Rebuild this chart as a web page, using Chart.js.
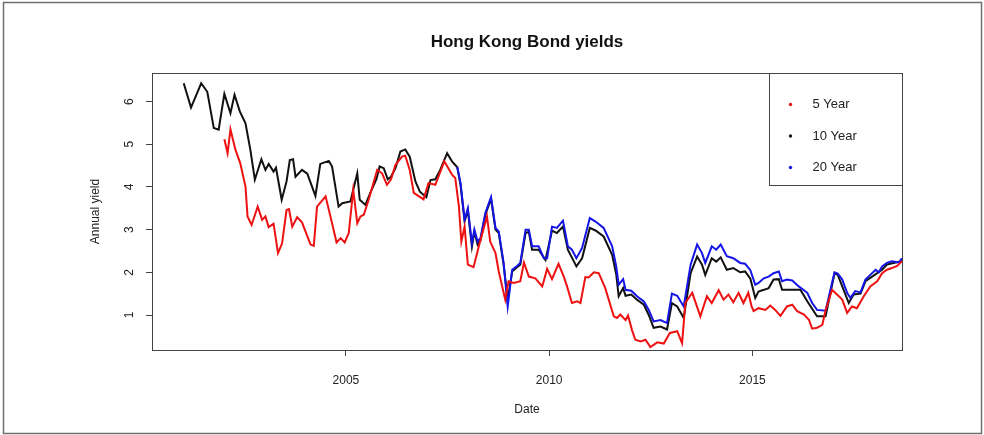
<!DOCTYPE html>
<html>
<head>
<meta charset="utf-8">
<title>Hong Kong Bond yields</title>
<script src="https://cdn.jsdelivr.net/npm/chart.js@4.4.0/dist/chart.umd.min.js"></script>
<style>
    html, body { margin: 0; padding: 0; background: #fff; }
    #wrap { width: 984px; height: 435px; }
</style>
</head>
<body>
<div id="wrap"><canvas id="chart" width="984" height="435"></canvas></div>
<script>
// Series (decimal years / annual yield in %)
const fiveYearDates = [2002.01, 2002.09, 2002.16, 2002.28, 2002.40, 2002.53, 2002.58, 2002.68, 2002.83, 2002.94, 2003.02, 2003.10, 2003.22, 2003.33, 2003.43, 2003.54, 2003.60, 2003.68, 2003.80, 2003.92, 2004.13, 2004.21, 2004.29, 2004.50, 2004.66, 2004.77, 2004.87, 2004.97, 2005.07, 2005.18, 2005.28, 2005.36, 2005.44, 2005.56, 2005.77, 2005.89, 2006.01, 2006.11, 2006.22, 2006.38, 2006.46, 2006.57, 2006.67, 2006.91, 2007.03, 2007.20, 2007.42, 2007.61, 2007.69, 2007.78, 2007.84, 2007.92, 2008.00, 2008.14, 2008.27, 2008.47, 2008.55, 2008.68, 2008.76, 2008.92, 2009.00, 2009.13, 2009.29, 2009.38, 2009.50, 2009.66, 2009.83, 2009.95, 2010.07, 2010.23, 2010.36, 2010.44, 2010.56, 2010.69, 2010.77, 2010.89, 2010.97, 2011.10, 2011.22, 2011.38, 2011.59, 2011.67, 2011.75, 2011.88, 2011.94, 2012.04, 2012.12, 2012.25, 2012.37, 2012.49, 2012.66, 2012.82, 2012.97, 2013.15, 2013.27, 2013.35, 2013.52, 2013.72, 2013.88, 2014.00, 2014.17, 2014.29, 2014.41, 2014.53, 2014.66, 2014.78, 2014.90, 2014.98, 2015.03, 2015.15, 2015.32, 2015.44, 2015.56, 2015.69, 2015.85, 2015.98, 2016.10, 2016.27, 2016.39, 2016.47, 2016.59, 2016.72, 2016.80, 2016.96, 2017.08, 2017.21, 2017.33, 2017.45, 2017.57, 2017.74, 2017.90, 2018.07, 2018.19, 2018.31, 2018.43, 2018.56, 2018.68];
const fiveYearValues = [5.12, 4.79, 5.35, 4.88, 4.56, 4.01, 3.31, 3.11, 3.54, 3.23, 3.31, 3.06, 3.14, 2.45, 2.68, 3.46, 3.48, 3.07, 3.29, 3.17, 2.65, 2.62, 3.54, 3.78, 3.15, 2.70, 2.80, 2.70, 2.92, 3.93, 3.15, 3.31, 3.35, 3.70, 4.40, 4.32, 4.05, 4.18, 4.52, 4.71, 4.73, 4.40, 3.86, 3.71, 4.09, 4.05, 4.60, 4.29, 4.21, 3.54, 2.72, 3.07, 2.18, 2.12, 2.61, 3.31, 2.72, 2.45, 2.02, 1.36, 1.79, 1.75, 1.79, 2.23, 1.90, 1.86, 1.67, 2.08, 1.84, 2.20, 1.90, 1.67, 1.28, 1.32, 1.28, 1.89, 1.88, 2.00, 1.98, 1.63, 0.97, 0.93, 1.01, 0.88, 0.99, 0.64, 0.42, 0.38, 0.42, 0.25, 0.36, 0.33, 0.58, 0.62, 0.34, 1.28, 1.52, 0.97, 1.44, 1.28, 1.58, 1.36, 1.48, 1.30, 1.52, 1.28, 1.52, 1.20, 1.09, 1.16, 1.12, 1.22, 1.12, 0.98, 1.20, 1.24, 1.09, 1.01, 0.89, 0.68, 0.70, 0.77, 1.11, 1.59, 1.48, 1.36, 1.05, 1.20, 1.16, 1.44, 1.67, 1.79, 1.98, 2.06, 2.10, 2.15, 2.26];

const tenYearDates = [2001.01, 2001.19, 2001.44, 2001.59, 2001.75, 2001.87, 2002.01, 2002.16, 2002.26, 2002.39, 2002.53, 2002.65, 2002.76, 2002.92, 2003.02, 2003.10, 2003.22, 2003.28, 2003.42, 2003.54, 2003.62, 2003.70, 2003.76, 2003.92, 2004.05, 2004.25, 2004.37, 2004.58, 2004.66, 2004.82, 2004.91, 2005.11, 2005.28, 2005.34, 2005.48, 2005.60, 2005.75, 2005.83, 2005.93, 2006.03, 2006.11, 2006.22, 2006.34, 2006.46, 2006.57, 2006.71, 2006.82, 2006.98, 2007.08, 2007.20, 2007.32, 2007.49, 2007.61, 2007.74, 2007.82, 2007.92, 2008.00, 2008.10, 2008.16, 2008.24, 2008.31, 2008.43, 2008.57, 2008.68, 2008.76, 2008.88, 2008.98, 2009.09, 2009.21, 2009.29, 2009.42, 2009.50, 2009.58, 2009.74, 2009.91, 2010.07, 2010.19, 2010.34, 2010.46, 2010.67, 2010.81, 2011.00, 2011.14, 2011.34, 2011.55, 2011.65, 2011.71, 2011.82, 2011.88, 2012.02, 2012.16, 2012.33, 2012.45, 2012.57, 2012.74, 2012.90, 2013.02, 2013.15, 2013.31, 2013.48, 2013.64, 2013.76, 2013.84, 2014.00, 2014.11, 2014.22, 2014.37, 2014.53, 2014.70, 2014.82, 2014.95, 2015.07, 2015.15, 2015.28, 2015.40, 2015.52, 2015.65, 2015.73, 2015.98, 2016.18, 2016.35, 2016.59, 2016.80, 2016.92, 2017.02, 2017.10, 2017.21, 2017.37, 2017.49, 2017.66, 2017.78, 2017.90, 2018.07, 2018.19, 2018.31, 2018.47, 2018.68];
const tenYearValues = [6.43, 5.86, 6.43, 6.23, 5.38, 5.34, 6.18, 5.73, 6.16, 5.77, 5.49, 4.87, 4.17, 4.65, 4.40, 4.54, 4.36, 4.45, 3.70, 4.13, 4.63, 4.65, 4.24, 4.40, 4.31, 3.79, 4.54, 4.61, 4.48, 3.54, 3.62, 3.66, 4.32, 3.70, 3.58, 3.86, 4.18, 4.48, 4.44, 4.18, 4.24, 4.44, 4.83, 4.88, 4.71, 4.13, 3.89, 3.76, 4.16, 4.18, 4.40, 4.79, 4.60, 4.46, 4.05, 3.20, 3.45, 2.60, 2.95, 2.65, 2.75, 3.35, 3.72, 3.00, 2.92, 2.18, 1.35, 2.02, 2.12, 2.18, 2.92, 2.95, 2.53, 2.53, 2.29, 2.98, 2.92, 3.07, 2.53, 2.14, 2.33, 3.04, 2.98, 2.84, 2.41, 1.95, 1.44, 1.63, 1.45, 1.48, 1.36, 1.24, 1.00, 0.70, 0.73, 0.66, 1.28, 1.20, 0.93, 1.98, 2.37, 2.18, 1.94, 2.33, 2.25, 2.35, 2.06, 2.10, 2.00, 2.02, 1.85, 1.40, 1.55, 1.59, 1.63, 1.83, 1.84, 1.59, 1.59, 1.59, 1.32, 0.97, 0.97, 1.52, 1.98, 1.94, 1.67, 1.28, 1.48, 1.50, 1.79, 1.87, 1.98, 2.06, 2.18, 2.22, 2.26];

const twentyYearDates = [2007.74, 2007.82, 2007.92, 2008.00, 2008.10, 2008.16, 2008.24, 2008.31, 2008.43, 2008.57, 2008.68, 2008.76, 2008.88, 2008.98, 2009.09, 2009.21, 2009.29, 2009.42, 2009.50, 2009.58, 2009.74, 2009.87, 2009.95, 2010.07, 2010.19, 2010.34, 2010.46, 2010.56, 2010.67, 2010.81, 2011.00, 2011.14, 2011.34, 2011.55, 2011.65, 2011.71, 2011.82, 2011.88, 2012.02, 2012.16, 2012.33, 2012.45, 2012.57, 2012.74, 2012.90, 2013.02, 2013.15, 2013.31, 2013.48, 2013.64, 2013.76, 2013.84, 2014.00, 2014.11, 2014.22, 2014.37, 2014.53, 2014.70, 2014.82, 2014.95, 2015.07, 2015.15, 2015.28, 2015.40, 2015.52, 2015.65, 2015.73, 2015.85, 2015.98, 2016.14, 2016.35, 2016.47, 2016.59, 2016.80, 2016.92, 2017.02, 2017.10, 2017.21, 2017.33, 2017.41, 2017.53, 2017.66, 2017.78, 2017.90, 2018.03, 2018.11, 2018.19, 2018.31, 2018.43, 2018.60, 2018.68];
const twentyYearValues = [4.46, 4.09, 3.23, 3.50, 2.68, 3.00, 2.72, 2.80, 3.39, 3.76, 3.04, 2.96, 2.22, 1.20, 2.06, 2.15, 2.22, 3.00, 3.00, 2.61, 2.61, 2.33, 2.33, 3.07, 3.04, 3.21, 2.61, 2.53, 2.33, 2.57, 3.27, 3.19, 3.04, 2.61, 2.14, 1.71, 1.84, 1.59, 1.57, 1.44, 1.32, 1.12, 0.85, 0.88, 0.81, 1.50, 1.45, 1.20, 2.18, 2.65, 2.45, 2.22, 2.61, 2.53, 2.65, 2.38, 2.33, 2.22, 2.20, 2.05, 1.71, 1.75, 1.86, 1.90, 1.98, 2.02, 1.79, 1.83, 1.81, 1.67, 1.52, 1.28, 1.12, 1.10, 1.59, 2.00, 1.97, 1.83, 1.52, 1.40, 1.56, 1.53, 1.83, 1.94, 2.06, 2.00, 2.14, 2.22, 2.26, 2.23, 2.33];

const seriesLabels = ['5 Year', '10 Year', '20 Year'];
const seriesColors = ['#ee1111', '#111111', '#1414e6'];
const xTickValues = [2005, 2010, 2015];
const yTickValues = [1, 2, 3, 4, 5, 6];

const FONT = '"Liberation Sans", Arial, sans-serif';

function toPoints(dates, values) {
    return dates.map((d, i) => ({ x: d, y: values[i] }));
}

// R-style box around the plot, legend box inside the top-right corner, outer frame
const rBoxPlugin = {
    id: 'rBox',
    beforeDraw(chart) {
        const ctx = chart.ctx;
        ctx.save();
        ctx.fillStyle = '#ffffff';
        ctx.fillRect(0, 0, chart.width, chart.height);
        ctx.restore();
    },
    afterDraw(chart) {
        const { ctx, chartArea } = chart;
        ctx.save();
        // outer frame of the figure
        ctx.strokeStyle = '#6f6f6f';
        ctx.lineWidth = 1.5;
        ctx.strokeRect(3.5, 2.5, chart.width - 6, chart.height - 4);

        // plot box
        ctx.strokeStyle = '#444';
        ctx.lineWidth = 1;
        const l = Math.round(chartArea.left) + 0.5, t = Math.round(chartArea.top) + 0.5;
        const r = Math.round(chartArea.right) + 0.5, b = Math.round(chartArea.bottom) + 0.5;
        ctx.strokeRect(l, t, r - l, b - t);

        // legend
        const boxW = 133, boxH = 112;
        const bx = r - boxW, by = t;
        ctx.fillStyle = '#fff';
        ctx.fillRect(bx, by, boxW, boxH);
        ctx.strokeRect(bx, by, boxW, boxH);
        ctx.font = '13px ' + FONT;
        ctx.textBaseline = 'middle';
        ctx.textAlign = 'left';
        chart.data.datasets.forEach((ds, i) => {
            const cy = by + 31 + i * 31.5;
            ctx.fillStyle = ds.borderColor;
            ctx.beginPath();
            ctx.arc(bx + 21, cy, 1.7, 0, Math.PI * 2);
            ctx.fill();
            ctx.fillStyle = '#222';
            ctx.fillText(ds.label, bx + 43, cy);
        });
        ctx.restore();
    }
};

const config = {
    type: 'line',
    data: {
        datasets: [
            { label: seriesLabels[0], data: toPoints(fiveYearDates, fiveYearValues), borderColor: seriesColors[0], order: 0 },
            { label: seriesLabels[1], data: toPoints(tenYearDates, tenYearValues), borderColor: seriesColors[1], order: 2 },
            { label: seriesLabels[2], data: toPoints(twentyYearDates, twentyYearValues), borderColor: seriesColors[2], order: 1 }
        ]
    },
    options: {
        responsive: false,
        animation: false,
        events: [],
        elements: {
            line: { borderWidth: 2, tension: 0, fill: false },
            point: { radius: 0 }
        },
        // left padding offsets the title so it centres over the plot box
        layout: { padding: { left: 70, right: 0, top: 0, bottom: 0 } },
        plugins: {
            legend: { display: false },
            tooltip: { enabled: false },
            title: {
                display: true,
                text: 'Hong Kong Bond yields',
                color: '#111',
                font: { family: FONT, size: 17, weight: 'bold' },
                padding: { top: 32, bottom: 20.6 }
            }
        },
        scales: {
            x: {
                type: 'linear',
                min: 2000.23,
                max: 2018.68,
                afterFit(scale) { scale.height = 85; },
                afterBuildTicks(scale) { scale.ticks = xTickValues.map(v => ({ value: v })); },
                ticks: {
                    color: '#222',
                    font: { family: FONT, size: 12 },
                    padding: 17,
                    maxRotation: 0,
                    callback: v => String(v)
                },
                grid: { drawOnChartArea: false, tickLength: 6, color: '#444' },
                border: { display: false },
                title: {
                    display: true,
                    text: 'Date',
                    color: '#222',
                    font: { family: FONT, size: 12 },
                    padding: { top: 0, bottom: 18 }
                }
            },
            y: {
                type: 'linear',
                min: 0.18,
                max: 6.67,
                afterFit(scale) { scale.width = 82; },
                afterBuildTicks(scale) { scale.ticks = yTickValues.map(v => ({ value: v })); },
                ticks: {
                    color: '#222',
                    font: { family: FONT, size: 12 },
                    padding: 13,
                    minRotation: 90,
                    maxRotation: 90,
                    crossAlign: 'center',
                    callback: v => String(v)
                },
                grid: { drawOnChartArea: false, tickLength: 6, color: '#444' },
                border: { display: false },
                title: {
                    display: true,
                    text: 'Annual yield',
                    color: '#222',
                    font: { family: FONT, size: 12 },
                    padding: { top: 18, bottom: 0 }
                }
            },
            // empty right margin, same width as the space right of the plot
            yRight: {
                type: 'linear',
                position: 'right',
                min: 0.18,
                max: 6.67,
                afterFit(scale) { scale.width = 82; },
                ticks: { display: false },
                grid: { display: false },
                border: { display: false }
            }
        }
    },
    plugins: [rBoxPlugin]
};

new Chart(document.getElementById('chart'), config);
</script>
</body>
</html>
